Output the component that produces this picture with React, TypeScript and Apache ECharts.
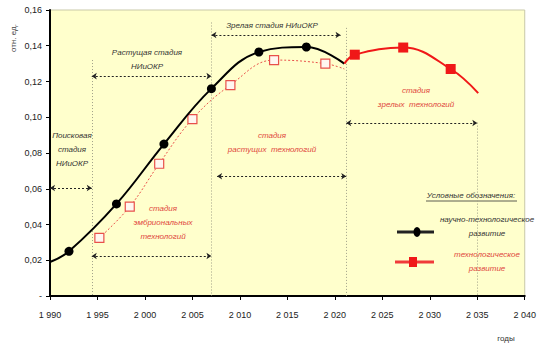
import React, { useEffect, useRef } from "react";
import * as echarts from "echarts";

// ---- data ----
const xTicks = [1990, 1995, 2000, 2005, 2010, 2015, 2020, 2025, 2030, 2035, 2040];
const yTicks = [0, 0.02, 0.04, 0.06, 0.08, 0.1, 0.12, 0.14, 0.16];

// научно-техническое развитие (black)
const blackYears = [1990, 1992, 1997, 2002, 2007, 2012, 2017, 2021];
const blackValues = [0.019, 0.025, 0.0515, 0.085, 0.116, 0.1365, 0.1393, 0.13];
const blackMarked = [false, true, true, true, true, true, true, false];

// dotted red (open squares)
const redDotYears = [1995.2, 1998.4, 2001.5, 2005, 2009, 2013.6, 2019, 2021];
const redDotValues = [0.0325, 0.05, 0.074, 0.099, 0.118, 0.132, 0.13, 0.127];
const redDotMarked = [true, true, true, true, true, true, true, false];

// технологическое развитие (red solid)
const redYears = [2021, 2022.1, 2027.2, 2032.2, 2035.1];
const redValues = [0.13, 0.135, 0.139, 0.127, 0.1135];
const redMarked = [false, true, true, true, false];

// stage boundaries (years) and arrows (in data units)
const stageArrows = [
  { from: 1990, to: 1994.4, level: 0.0604 },
  { from: 1994.4, to: 2007, level: 0.123 },
  { from: 2007, to: 2020.6, level: 0.146 },
  { from: 1994.4, to: 2007, level: 0.0224 },
  { from: 2007.6, to: 2021.2, level: 0.067 },
  { from: 2021.2, to: 2035, level: 0.0968 },
];
const stageBounds = [
  { year: 1994.4, top: 0.132 },
  { year: 2007, top: 0.153 },
  { year: 2021.2, top: 0.15 },
  { year: 2035, top: 0.097 },
];

const FONT = '"Liberation Sans Narrow", "Arial Narrow", "Liberation Sans", Arial, sans-serif';
const RED_TEXT = "#e0463c";
const DARK_TEXT = "#333333";

function mk(years: number[], values: number[], marked: boolean[]) {
  return years.map((y, i) =>
    marked[i] ? { value: [y, values[i]] } : { value: [y, values[i]], symbol: "none" }
  );
}

function txt(x: number, y: number, text: string, color: string, size = 8, extra: any = {}) {
  return {
    type: "text",
    x,
    y,
    silent: true,
    style: {
      text,
      fill: color,
      font: `italic ${size}px ${FONT}`,
      textAlign: "center",
      textVerticalAlign: "middle",
      lineHeight: 14,
      ...extra,
    },
  };
}

export default function App() {
  const ref = useRef<HTMLDivElement>(null);
  useEffect(() => {
    const chart = echarts.init(ref.current as HTMLDivElement, null, {
      renderer: "svg",
      width: 539,
      height: 350,
    });
    const option: any = {
      animation: false,
      backgroundColor: "#ffffff",
      grid: {
        left: 50,
        right: 12,
        top: 10,
        bottom: 54,
        show: true,
        backgroundColor: "#ffffcc",
        borderColor: "#c9c9a8",
        borderWidth: 1,
      },
      xAxis: {
        type: "value",
        min: xTicks[0],
        max: xTicks[xTicks.length - 1],
        interval: 5,
        splitLine: { show: false },
        axisLine: { lineStyle: { color: "#000", width: 2 } },
        axisTick: { show: true, length: 4, lineStyle: { color: "#000" } },
        axisLabel: {
          color: "#222",
          fontFamily: FONT,
          fontSize: 9,
          margin: 14,
          formatter: (v: number) => {
            const s = String(v);
            return s.slice(0, 1) + " " + s.slice(1);
          },
        },
      },
      yAxis: {
        type: "value",
        min: yTicks[0],
        max: yTicks[yTicks.length - 1],
        interval: 0.02,
        splitLine: { show: false },
        axisLine: { show: true, lineStyle: { color: "#000", width: 2 } },
        axisTick: { show: true, length: 4, lineStyle: { color: "#000" } },
        axisLabel: {
          color: "#222",
          fontFamily: FONT,
          fontSize: 9,
          margin: 8,
          formatter: (v: number) => (v === 0 ? "-" : v.toFixed(2).replace(".", ",")),
        },
      },
      series: [
        {
          type: "line",
          name: "научно-техническое развитие",
          data: mk(blackYears, blackValues, blackMarked),
          smooth: 0.4,
          symbol: "circle",
          symbolSize: 9,
          itemStyle: { color: "#000" },
          lineStyle: { color: "#000", width: 2 },
          z: 5,
          markLine: {
            silent: true,
            symbol: ["arrow", "arrow"],
            symbolSize: 5,
            label: { show: false },
            lineStyle: { color: "#222", width: 1, type: [2, 2] },
            data: stageArrows.map((a) => [
              { coord: [a.from, a.level] },
              { coord: [a.to, a.level] },
            ]),
          },
        },
        {
          type: "line",
          name: "dotted",
          data: mk(redDotYears, redDotValues, redDotMarked),
          smooth: 0.4,
          symbol: "rect",
          symbolSize: 9,
          itemStyle: { color: "#fff6f0", borderColor: "#e8504a", borderWidth: 1.2 },
          lineStyle: { color: "#e8504a", width: 1, type: [2, 2] },
          z: 4,
          markLine: {
            silent: true,
            symbol: ["none", "none"],
            label: { show: false },
            lineStyle: { color: "#a0a088", width: 1, type: [1, 2] },
            data: stageBounds.map((b) => [
              { coord: [b.year, b.top] },
              { coord: [b.year, 0] },
            ]),
          },
        },
        {
          type: "line",
          name: "технологическое развитие",
          data: mk(redYears, redValues, redMarked),
          smooth: 0.4,
          symbol: "rect",
          symbolSize: 10,
          itemStyle: { color: "#f01818" },
          lineStyle: { color: "#f01818", width: 2 },
          z: 5,
        },
      ],
      graphic: [
        // axis titles
        {
          type: "text",
          x: 13,
          y: 38,
          rotation: Math.PI / 2,
          silent: true,
          style: {
            text: "отн. ед.",
            fill: "#444",
            font: `8px ${FONT}`,
            textAlign: "center",
            textVerticalAlign: "middle",
          },
        },
        {
          type: "text",
          x: 506,
          y: 338,
          silent: true,
          style: {
            text: "годы",
            fill: "#333",
            font: `8px ${FONT}`,
            textAlign: "center",
            textVerticalAlign: "middle",
          },
        },
        // stage labels
        txt(72, 149, "Поисковая\nстадия\nНИиОКР", DARK_TEXT, 8),
        txt(147, 59, "Растущая стадия\nНИиОКР", DARK_TEXT, 8),
        txt(272, 25, "Зрелая стадия НИиОКР", DARK_TEXT, 8),
        txt(163, 222, "стадия\nэмбриональных\nтехнологий", RED_TEXT, 8),
        txt(272, 142, "стадия\nрастущих  технологий", RED_TEXT, 8),
        txt(416, 97, "стадия\nзрелых  технологий", RED_TEXT, 8),
        // legend
        txt(471, 195, "Условные обозначения:", DARK_TEXT, 8),
        {
          type: "line",
          silent: true,
          shape: { x1: 426, y1: 201, x2: 517, y2: 201 },
          style: { stroke: "#333", lineWidth: 0.8 },
        },
        {
          type: "line",
          silent: true,
          shape: { x1: 397, y1: 232, x2: 434, y2: 232 },
          style: { stroke: "#222", lineWidth: 3 },
        },
        {
          type: "ellipse",
          silent: true,
          shape: { cx: 417, cy: 232, rx: 3.5, ry: 5 },
          style: { fill: "#000" },
        },
        txt(487, 226, "научно-технологическое\nразвитие", DARK_TEXT, 8),
        {
          type: "line",
          silent: true,
          shape: { x1: 395, y1: 262, x2: 434, y2: 262 },
          style: { stroke: "#f03a3a", lineWidth: 3 },
        },
        {
          type: "rect",
          silent: true,
          shape: { x: 409, y: 257, width: 8, height: 10 },
          style: { fill: "#f01818" },
        },
        txt(487, 261, "технологическое\nразвитие", RED_TEXT, 8),
      ],
    };
    chart.setOption(option);
    return () => chart.dispose();
  }, []);
  return (
    <div
      ref={ref}
      style={{ position: "absolute", left: 0, top: 0, width: 539, height: 350 }}
    />
  );
}
